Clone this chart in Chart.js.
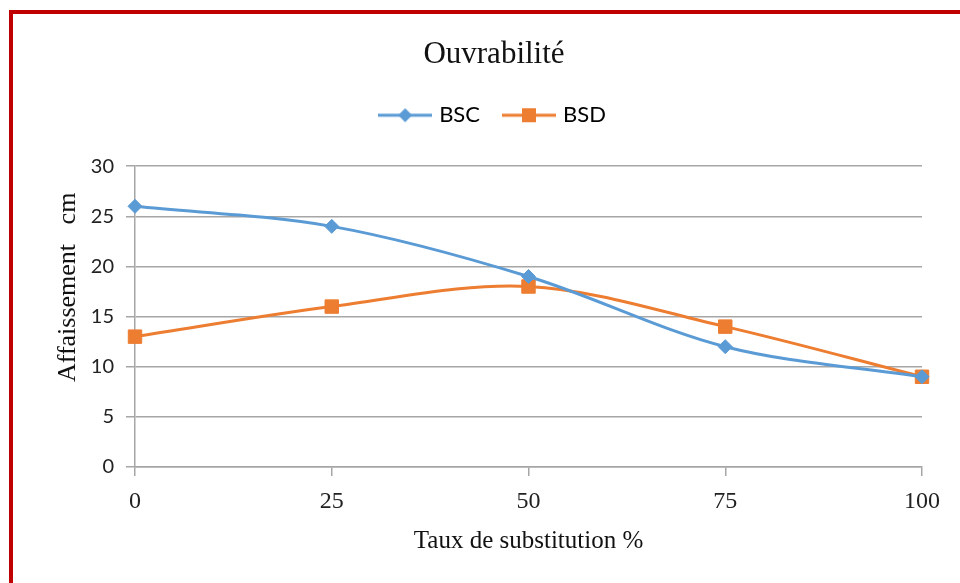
<!DOCTYPE html>
<html>
<head>
<meta charset="utf-8">
<title>Ouvrabilité</title>
<script src="https://cdn.jsdelivr.net/npm/chart.js@4/dist/chart.umd.min.js"></script>
<style>
  html, body { margin: 0; padding: 0; background: #ffffff; overflow: hidden; }
  #frame {
    position: absolute; left: 9px; top: 10px;
    width: 1000px; height: 700px;
    border: 4px solid #c00000; box-sizing: border-box;
  }
  #wrap { position: absolute; left: 0; top: 0; width: 960px; height: 583px; }
</style>
</head>
<body>
<div id="frame"></div>
<div id="wrap"><canvas id="chart" width="960" height="583"></canvas></div>
<script>
// Slump (affaissement, cm) against substitution rate (%)
const substitution = [0, 25, 50, 75, 100];
const bscValues = [26, 24, 19, 12, 9];
const bsdValues = [13, 16, 18, 14, 9];
const xTicks = [0, 25, 50, 75, 100];
const yTicks = [0, 5, 10, 15, 20, 25, 30];

const BLUE = '#5b9bd5';
const ORANGE = '#ed7d31';
const SERIF = '"Liberation Serif", "Times New Roman", serif';
const SANS = 'Lato, "Liberation Sans", sans-serif';

function toPoints(xs, ys) {
  return xs.map((x, i) => ({ x: x, y: ys[i] }));
}

// Legend key: a short line segment with the series marker on it
function legendIcon(color, shape) {
  const c = document.createElement('canvas');
  c.width = 54; c.height = 18;
  const g = c.getContext('2d');
  g.strokeStyle = color; g.lineWidth = 3;
  g.beginPath(); g.moveTo(0, 9); g.lineTo(54, 9); g.stroke();
  g.fillStyle = color;
  g.beginPath();
  if (shape === 'diamond') {
    g.moveTo(27, 2); g.lineTo(34, 9); g.lineTo(27, 16); g.lineTo(20, 9);
    g.closePath();
  } else {
    g.rect(20, 2, 14, 14);
  }
  g.fill();
  return c;
}
const icons = [legendIcon(BLUE, 'diamond'), legendIcon(ORANGE, 'square')];

// Leaves extra room between the legend row and the plot area
const LEGEND_GAP = 30;
const legendSpacer = {
  id: 'legendSpacer',
  beforeInit(chart) {
    const lg = chart.legend;
    if (!lg) return;
    const fit = lg.fit.bind(lg);
    lg.fit = function () {
      fit();
      this.height += LEGEND_GAP;
    };
  }
};

new Chart(document.getElementById('chart'), {
  type: 'line',
  plugins: [legendSpacer],
  data: {
    datasets: [
      {
        label: 'BSC',
        data: toPoints(substitution, bscValues),
        borderColor: BLUE,
        backgroundColor: BLUE,
        borderWidth: 3,
        pointStyle: 'rectRot',
        pointRadius: 7,
        pointBorderWidth: 1,
        pointBorderColor: BLUE,
        pointBackgroundColor: BLUE,
        tension: 0.33,
        clip: false
      },
      {
        label: 'BSD',
        data: toPoints(substitution, bsdValues),
        borderColor: ORANGE,
        backgroundColor: ORANGE,
        borderWidth: 3,
        pointStyle: 'rect',
        pointRadius: 9.5,
        pointBorderWidth: 1,
        pointBorderColor: ORANGE,
        pointBackgroundColor: ORANGE,
        tension: 0.33,
        clip: false
      }
    ]
  },
  options: {
    responsive: false,
    animation: false,
    devicePixelRatio: 1,
    layout: { padding: { top: 22, left: 66, right: 38, bottom: 8 } },
    plugins: {
      title: {
        display: true,
        text: 'Ouvrabilité',
        color: '#111111',
        font: { family: SERIF, size: 31, weight: 'normal' },
        padding: { top: 14, bottom: 5 }
      },
      legend: {
        display: true,
        position: 'top',
        labels: {
          color: '#222222',
          font: { family: SANS, size: 22 },
          usePointStyle: true,
          pointStyleWidth: 46,
          boxHeight: 18,
          padding: 26,
          generateLabels: (chart) => chart.data.datasets.map((ds, i) => ({
            text: ds.label,
            pointStyle: icons[i],
            fillStyle: ds.borderColor,
            strokeStyle: ds.borderColor,
            lineWidth: 0,
            hidden: false,
            datasetIndex: i
          }))
        }
      },
      tooltip: { enabled: false }
    },
    scales: {
      x: {
        type: 'linear',
        min: 0,
        max: 100,
        afterBuildTicks: (scale) => { scale.ticks = xTicks.map(v => ({ value: v })); },
        afterFit: (scale) => { scale.height = 108; },
        ticks: {
          color: '#222222',
          font: { family: SERIF, size: 24 },
          padding: 11,
          maxRotation: 0
        },
        grid: {
          display: true,
          drawOnChartArea: false,
          drawTicks: true,
          tickLength: 9,
          color: '#a6a6a6',
          lineWidth: 1.5
        },
        border: { display: true, color: '#a6a6a6', width: 1.5 },
        title: {
          display: true,
          text: 'Taux de substitution %',
          color: '#111111',
          font: { family: SERIF, size: 25 },
          padding: { top: 6, bottom: 19 }
        }
      },
      y: {
        min: 0,
        max: 30,
        afterBuildTicks: (scale) => { scale.ticks = yTicks.map(v => ({ value: v })); },
        afterFit: (scale) => { scale.width = 69; },
        ticks: {
          color: '#222222',
          font: { family: SANS, size: 20 },
          padding: 12
        },
        grid: {
          display: true,
          drawOnChartArea: true,
          drawTicks: true,
          tickLength: 9,
          color: '#a6a6a6',
          lineWidth: 1.5
        },
        border: { display: true, color: '#a6a6a6', width: 1.5 },
        title: {
          display: true,
          text: '         Affaissement   cm',
          color: '#111111',
          font: { family: SERIF, size: 26 },
          padding: { top: -13, bottom: 0 }
        }
      }
    }
  }
});
</script>
</body>
</html>
